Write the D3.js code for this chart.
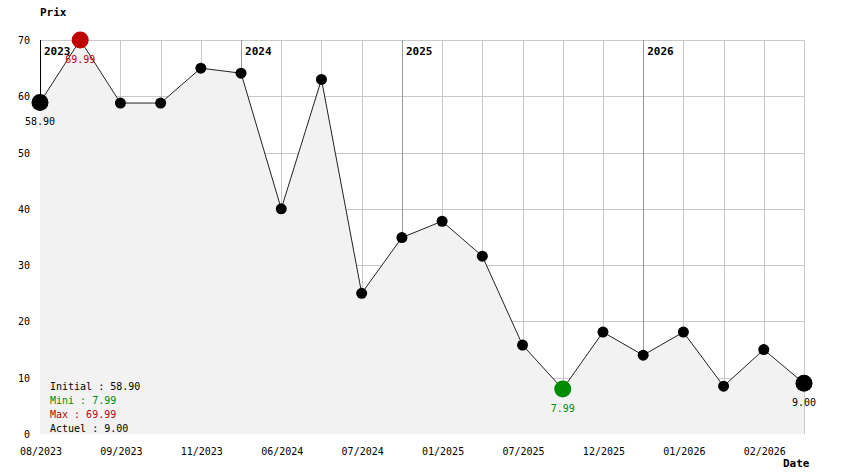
<!DOCTYPE html>
<html>
<head>
<meta charset="utf-8">
<script src="https://cdn.jsdelivr.net/npm/d3@7"></script>
<style>
  body { margin: 0; background: #fff; }
  text { font-family: "DejaVu Sans Mono", monospace; font-size: 10px; }
  .bold { font-weight: bold; font-size: 11px; }
</style>
</head>
<body>
<svg id="chart" width="844" height="474"></svg>
<script>
const dates = ['08/2023', '', '09/2023', '', '11/2023', '', '06/2024', '', '07/2024', '',
  '01/2025', '', '07/2025', '', '12/2025', '', '01/2026', '', '02/2026', '']
const prices = [58.90, 69.99, 58.8, 58.8, 65.0, 64.1, 40.0, 63.0, 25.0, 34.9,
  37.8, 31.6, 15.8, 7.99, 18.1, 14.0, 18.1, 8.5, 15.0, 9.00]
const yearLabels = ['2023', '2024', '2025', '2026']
const yearIndex = [0, 5, 9, 15]
const yTicks = [0, 10, 20, 30, 40, 50, 60, 70]

const red = '#c00000', green = '#008c00'
const plot = { left: 40, right: 804, top: 40, bottom: 434 }

const svg = d3.select('#chart')
const idx = d3.range(prices.length)

const x = d3.scalePoint().domain(idx).range([plot.left, plot.right])
const y = d3.scaleLinear().domain([0, 70]).range([plot.bottom, plot.top])

const iMin = d3.minIndex(prices), iMax = d3.maxIndex(prices)
const iLast = prices.length - 1

// grid
svg.append('g').selectAll('line')
    .data(yTicks.filter(d => d > 0))
    .join('line')
    .attr('x1', plot.left).attr('x2', plot.right)
    .attr('y1', d => Math.round(y(d)) + 0.5).attr('y2', d => Math.round(y(d)) + 0.5)
    .attr('stroke', '#c8c8c8')

svg.append('g').selectAll('line')
    .data(idx)
    .join('line')
    .attr('x1', d => Math.round(x(d)) + 0.5).attr('x2', d => Math.round(x(d)) + 0.5)
    .attr('y1', plot.top).attr('y2', plot.bottom)
    .attr('stroke', d => {
        const k = yearIndex.indexOf(d)
        if (k === 0) return '#000'
        return k > 0 ? '#999' : '#c8c8c8'
    })

// area under the line
svg.append('path')
    .datum(idx)
    .attr('fill', '#f2f2f2')
    .attr('d', d3.area().x(d => x(d)).y0(plot.bottom).y1(d => y(prices[d])))

svg.append('path')
    .datum(idx)
    .attr('fill', 'none')
    .attr('stroke', '#222')
    .attr('stroke-width', 1)
    .attr('d', d3.line().x(d => x(d)).y(d => y(prices[d])))

// year labels
svg.append('g').selectAll('text')
    .data(yearLabels)
    .join('text')
    .classed('bold', true)
    .attr('x', (d, i) => x(yearIndex[i]) + 4)
    .attr('y', 55)
    .text(d => d)

// points
const big = i => i === 0 || i === iLast || i === iMin || i === iMax
svg.append('g').selectAll('circle')
    .data(idx)
    .join('circle')
    .attr('cx', d => x(d))
    .attr('cy', d => y(prices[d]))
    .attr('r', d => big(d) ? 8.5 : 5.5)
    .attr('fill', d => d === iMin ? green : d === iMax ? red : '#000')

// point value labels
svg.append('g').selectAll('text')
    .data([0, iMax, iMin, iLast])
    .join('text')
    .attr('x', d => x(d))
    .attr('y', d => y(prices[d]) + 23)
    .attr('text-anchor', 'middle')
    .attr('fill', d => d === iMin ? green : d === iMax ? red : '#000')
    .text(d => prices[d].toFixed(2))

// y axis labels
svg.append('g').selectAll('text')
    .data(yTicks)
    .join('text')
    .attr('x', 30)
    .attr('y', d => y(d) + 4)
    .attr('text-anchor', 'end')
    .text(d => d)

// x axis labels
svg.append('g').selectAll('text')
    .data(idx.filter(i => dates[i]))
    .join('text')
    .attr('x', d => x(d) + 1)
    .attr('y', 455)
    .attr('text-anchor', 'middle')
    .text(d => dates[d])

svg.append('text').classed('bold', true).attr('x', 40).attr('y', 16).text('Prix')
svg.append('text').classed('bold', true).attr('x', 783).attr('y', 467).text('Date')

// summary
const summary = [
    ['Initial : ' + prices[0].toFixed(2), '#000'],
    ['Mini : ' + prices[iMin].toFixed(2), green],
    ['Max : ' + prices[iMax].toFixed(2), red],
    ['Actuel : ' + prices[iLast].toFixed(2), '#000']
]
svg.append('g').selectAll('text')
    .data(summary)
    .join('text')
    .attr('x', 50)
    .attr('y', (d, i) => 390 + i * 14)
    .attr('fill', d => d[1])
    .text(d => d[0])
</script>
</body>
</html>
